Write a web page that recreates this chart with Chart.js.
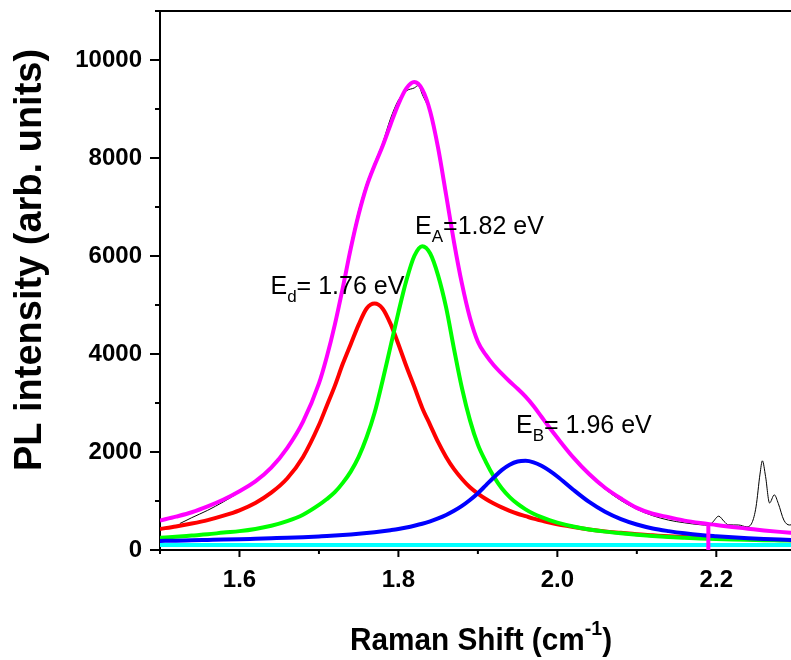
<!DOCTYPE html>
<html>
<head>
<meta charset="utf-8">
<title>PL spectrum fit</title>
<script src="https://cdn.jsdelivr.net/npm/chart.js@4.4.1/dist/chart.umd.min.js"></script>
<style>
  html, body { margin: 0; padding: 0; background: #fff; }
</style>
</head>
<body>
<canvas id="plChart" width="791" height="660"></canvas>
<script>
"use strict";

// energy grid of the fitted curves (eV)
const energy = [
  1.50, 1.52, 1.54, 1.56, 1.58, 1.60, 1.62, 1.64, 1.66, 1.68,
  1.70, 1.71, 1.72, 1.73, 1.74, 1.75, 1.76, 1.77, 1.78, 1.79,
  1.80, 1.81, 1.82, 1.83, 1.84, 1.85, 1.86, 1.87, 1.88, 1.89,
  1.90, 1.91, 1.92, 1.93, 1.94, 1.95, 1.96, 1.97, 1.98, 1.99,
  2.00, 2.02, 2.04, 2.06, 2.08, 2.10, 2.12, 2.14, 2.16, 2.18,
  2.20, 2.22, 2.24, 2.26, 2.28, 2.30
];
// cumulative fit (magenta)
const fitSum = [
  600, 680, 770, 890, 1030, 1200, 1400, 1680, 2080, 2620,
  3400, 3950, 4600, 5350, 6150, 6850, 7420, 7850, 8240, 8680,
  9100, 9420, 9550, 9400, 8950, 8200, 7250, 6280, 5430, 4740,
  4250, 3980, 3770, 3600, 3440, 3290, 3130, 2940, 2720, 2500,
  2290, 1890, 1550, 1270, 1050, 860, 740, 670, 600, 550,
  510, 470, 435, 400, 370, 345
];
// Ed peak (red)
const peakD = [
  430, 480, 540, 610, 700, 810, 960, 1170, 1460, 1900,
  2550, 2950, 3350, 3800, 4200, 4600, 4930, 5030, 4930, 4620,
  4200, 3750, 3330, 2900, 2550, 2200, 1900, 1650, 1450, 1280,
  1150, 1040, 950, 870, 800, 740, 690, 640, 600, 560,
  525, 470, 420, 380, 350, 320, 300, 280, 265, 250,
  240, 230, 220, 210, 205, 200
];
// EA peak (green)
const peakA = [
  250, 270, 295, 320, 355, 385, 430, 495, 590, 720,
  920, 1040, 1180, 1370, 1600, 1900, 2300, 2800, 3450, 4150,
  4850, 5500, 6000, 6200, 6050, 5600, 4950, 4100, 3300, 2650,
  2150, 1800, 1500, 1260, 1080, 940, 830, 740, 670, 610,
  560, 480, 420, 375, 340, 310, 285, 265, 250, 237,
  225, 215, 207, 200, 195, 190
];
// EB peak (blue)
const peakB = [
  185, 190, 198, 205, 212, 220, 230, 240, 250, 262,
  278, 286, 295, 305, 317, 330, 345, 362, 382, 405,
  430, 460, 495, 535, 585, 645, 715, 800, 900, 1020,
  1160, 1320, 1480, 1630, 1740, 1805, 1820, 1790, 1720, 1620,
  1500, 1230, 980, 780, 630, 520, 440, 385, 340, 305,
  280, 258, 240, 225, 212, 200
];
// flat background (cyan)
const baselineEnergy = [1.50, 2.30];
const baseline = [100, 100];

// measured spectrum (thin black)
const rawEnergy = [
  1.525, 1.54, 1.56, 1.58, 1.60, 1.62, 1.64, 1.66, 1.68, 1.70,
  1.72, 1.73, 1.74, 1.75, 1.76, 1.77, 1.78, 1.79, 1.80, 1.81,
  1.82, 1.825, 1.83, 1.84, 1.85, 1.86, 1.87, 1.88, 1.89, 1.90,
  1.91, 1.92, 1.93, 1.94, 1.95, 1.96, 1.97, 1.98, 1.99, 2.00,
  2.02, 2.04, 2.06, 2.08, 2.10, 2.12, 2.14, 2.16, 2.18, 2.19,
  2.195, 2.203, 2.21, 2.215, 2.228, 2.238, 2.245, 2.25, 2.255, 2.258,
  2.262, 2.267, 2.273, 2.278, 2.285, 2.292, 2.296
];
const rawCounts = [
  540, 660, 810, 985, 1180, 1400, 1690, 2100, 2640, 3420,
  4650, 5420, 6230, 6930, 7480, 7900, 8300, 8800, 9180, 9370,
  9430, 9480, 9300, 8920, 8220, 7270, 6300, 5460, 4780, 4260,
  3990, 3770, 3590, 3430, 3270, 3110, 2920, 2700, 2480, 2270,
  1860, 1520, 1240, 1010, 830, 700, 610, 555, 515, 505,
  560, 690, 580, 515, 510, 475, 560, 880, 1550, 1820,
  1500, 960, 1125, 950, 610, 510, 520
];

// drop line of the envelope near 2.19 eV
const markerEnergy = [2.19, 2.19];
const markerCounts = [515, 0];

// tick labels
const xTickLabels = ["1.6", "1.8", "2.0", "2.2"];
const yTickLabels = ["0", "2000", "4000", "6000", "8000", "10000"];

// peak captions: symbol, subscript, text, anchor (eV, counts)
const peakNotes = [
  { sym: "E", sub: "d", text: "= 1.76 eV", at: [1.639, 5215] },
  { sym: "E", sub: "A", text: "=1.82 eV", at: [1.821, 6442] },
  { sym: "E", sub: "B", text: "= 1.96 eV", at: [1.948, 2393] }
];

const FONT = "'Liberation Sans', Arial, sans-serif";

function pts(xs, ys) {
  return xs.map((x, i) => ({ x: x, y: ys[i] }));
}

function line(label, xs, ys, color, width) {
  return {
    label: label,
    data: pts(xs, ys),
    borderColor: color,
    borderWidth: width,
    pointRadius: 0,
    fill: false,
    cubicInterpolationMode: "monotone"
  };
}

// tick marks, top frame line --------------
const frame = {
  id: "frame",
  afterDraw(chart) {
    const { ctx, chartArea: a, scales: { x, y } } = chart;
    ctx.save();
    ctx.strokeStyle = "#000";
    ctx.lineWidth = 2;
    ctx.beginPath();
    ctx.moveTo(a.left - 1, a.top);
    ctx.lineTo(a.right, a.top);
    x.ticks.forEach(t => {
      const px = x.getPixelForValue(t.value);
      const major = xTickLabels.includes(t.value.toFixed(1));
      ctx.moveTo(px, a.bottom);
      ctx.lineTo(px, a.bottom + (major ? 7 : 4));
    });
    y.ticks.forEach(t => {
      const py = y.getPixelForValue(t.value);
      const major = yTickLabels.includes(String(Math.round(t.value)));
      ctx.moveTo(a.left, py);
      ctx.lineTo(a.left - (major ? 10 : 5), py);
    });
    ctx.stroke();
    ctx.restore();
  }
};

// captions and axis titles --------------
const captions = {
  id: "captions",
  afterDraw(chart) {
    const { ctx, scales: { x, y } } = chart;
    ctx.save();
    ctx.fillStyle = "#000";
    ctx.textBaseline = "alphabetic";
    ctx.textAlign = "left";
    peakNotes.forEach(n => {
      let px = x.getPixelForValue(n.at[0]);
      const py = y.getPixelForValue(n.at[1]);
      ctx.font = "25px " + FONT;
      ctx.fillText(n.sym, px, py);
      px += ctx.measureText(n.sym).width;
      ctx.font = "17px " + FONT;
      ctx.fillText(n.sub, px, py + 8);
      px += ctx.measureText(n.sub).width;
      ctx.font = "25px " + FONT;
      ctx.fillText(n.text, px, py);
    });

    // y title
    ctx.save();
    ctx.translate(31, 260);
    ctx.rotate(-Math.PI / 2);
    ctx.textAlign = "center";
    ctx.textBaseline = "middle";
    ctx.font = "bold 38px " + FONT;
    ctx.fillText("PL intensity (arb. units)", 0, 0);
    ctx.restore();

    // x title with superscript
    const main = "Raman Shift (cm", sup = "-1", close = ")";
    const sx = 0.93;
    ctx.font = "bold 32px " + FONT;
    const w1 = ctx.measureText(main).width;
    const w3 = ctx.measureText(close).width;
    ctx.font = "bold 21px " + FONT;
    const w2 = ctx.measureText(sup).width;
    const total = (w1 + w2 + w3) * sx;
    ctx.translate(481 - total / 2, 650);
    ctx.scale(sx, 1);
    ctx.font = "bold 32px " + FONT;
    ctx.fillText(main, 0, 0);
    ctx.fillText(close, w1 + w2, 0);
    ctx.font = "bold 21px " + FONT;
    ctx.fillText(sup, w1, -15);
    ctx.restore();
  }
};

const ctx = document.getElementById("plChart").getContext("2d");
const plChart = new Chart(ctx, {
  type: "line",
  data: {
    datasets: [
      line("Cumulative fit", energy, fitSum, "#ff00ff", 4),
      Object.assign(line("Fit marker", markerEnergy, markerCounts, "#ff00ff", 4), { cubicInterpolationMode: "default", tension: 0 }),
      line("E_B", energy, peakB, "#0000ff", 4),
      line("E_A", energy, peakA, "#00ff00", 4),
      line("E_d", energy, peakD, "#ff0000", 4),
      line("Measured", rawEnergy, rawCounts, "#000000", 1),
      Object.assign(line("Background", baselineEnergy, baseline, "#00ffff", 4), { cubicInterpolationMode: "default", tension: 0 })
    ]
  },
  options: {
    responsive: false,
    animation: false,
    layout: { padding: { top: 11, right: 0, bottom: 0, left: 0 } },
    plugins: {
      legend: { display: false },
      tooltip: { enabled: false }
    },
    scales: {
      x: {
        type: "linear",
        min: 1.5,
        max: 2.294,
        afterFit: s => { s.height = 110; s.paddingLeft = 0; s.paddingRight = 0; },
        grid: { drawOnChartArea: false, drawTicks: false },
        border: { display: true, color: "#000", width: 2 },
        ticks: {
          stepSize: 0.1,
          includeBounds: false,
          autoSkip: false,
          maxRotation: 0,
          padding: 16,
          color: "#000",
          font: { family: FONT, size: 24, weight: "bold" },
          callback: v => {
            const s = Number(v).toFixed(1);
            return xTickLabels.includes(s) ? s : "";
          }
        }
      },
      y: {
        min: 0,
        max: 11000,
        afterFit: s => { s.width = 160; s.paddingTop = 0; s.paddingBottom = 0; },
        grid: { drawOnChartArea: false, drawTicks: false },
        border: { display: true, color: "#000", width: 2 },
        ticks: {
          stepSize: 1000,
          includeBounds: false,
          autoSkip: false,
          padding: 18,
          color: "#000",
          font: { family: FONT, size: 24, weight: "bold" },
          callback: v => {
            const s = String(Math.round(v));
            return yTickLabels.includes(s) ? s : "";
          }
        }
      }
    }
  },
  plugins: [frame, captions]
});
</script>
</body>
</html>
